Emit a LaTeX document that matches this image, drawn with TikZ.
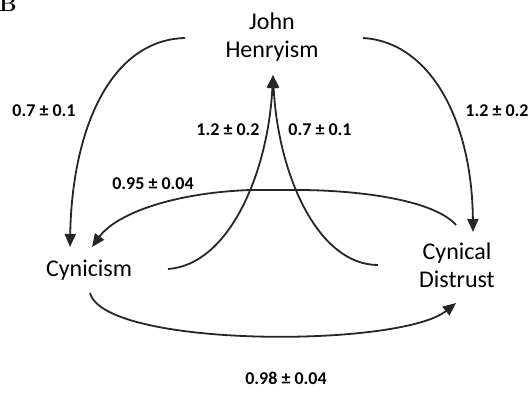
\documentclass[tikz,border=0pt]{standalone}
\usepackage{fontspec}
\newfontfamily\calfont{Carlito}
\usetikzlibrary{arrows.meta}
\begin{document}
\begin{tikzpicture}[x=1pt,y=-1pt,
  namebox/.style={font=\calfont\fontsize{24}{28}\selectfont, align=center, inner sep=0pt},
  lab/.style={font=\calfont\fontsize{18}{20}\selectfont\bfseries, inner sep=0pt},
  conn/.style={line width=1.8pt, draw=black!85, -{Triangle[length=13pt,width=11pt]}},
]
\useasboundingbox (0,0) rectangle (532,395);
\node[font=\fontsize{22}{22}\selectfont\bfseries, anchor=base west, inner sep=0pt] (panel) at (-1,12) {B};

\node[namebox] (jh) at (272,37) {John\\Henryism};
\node[namebox] (cyn) at (89,270) {Cynicism};
\node[namebox] (cd) at (457,265) {Cynical\\Distrust};

% JH -> Cynicism
\draw[conn] ([shift={(-87,1)}]jh.center) .. controls (110,40) and (72,130) .. ([shift={(-19,-23)}]cyn.center);
% JH -> Cynical Distrust
\draw[conn] ([shift={(91,1)}]jh.center) .. controls (430,42) and (472,120) .. ([shift={(16,-33)}]cd.center);
% Cynicism -> JH
\draw[conn] ([shift={(79,-1)}]cyn.center) .. controls (228,265) and (268,175) .. ([shift={(1,38)}]jh.center);
% Cynical Distrust -> JH
\draw[conn] ([shift={(-79,0)}]cd.center) .. controls (318,265) and (278,175) .. ([shift={(1,38)}]jh.center);
% Cynical Distrust -> Cynicism
\draw[conn] ([shift={(-1,-40)}]cd.center) .. controls (432,198) and (350,190) .. (298,190) -- (250,190) .. controls (170,193) and (115,215) .. ([shift={(3,-23)}]cyn.center);
% Cynicism -> Cynical Distrust
\draw[conn] ([shift={(1,23)}]cyn.center) .. controls (105,348) and (400,348) .. ([shift={(-1,38)}]cd.center);

\node[lab] (l1) at (44,111) {0.7 ± 0.1};
\node[lab] (l2) at (497,111) {1.2 ± 0.2};
\node[lab] (l3) at (228,130) {1.2 ± 0.2};
\node[lab] (l4) at (320,130) {0.7 ± 0.1};
\node[lab] (l5) at (153,184) {0.95 ± 0.04};
\node[lab] (l6) at (286,378) {0.98 ± 0.04};
\end{tikzpicture}
\end{document}
